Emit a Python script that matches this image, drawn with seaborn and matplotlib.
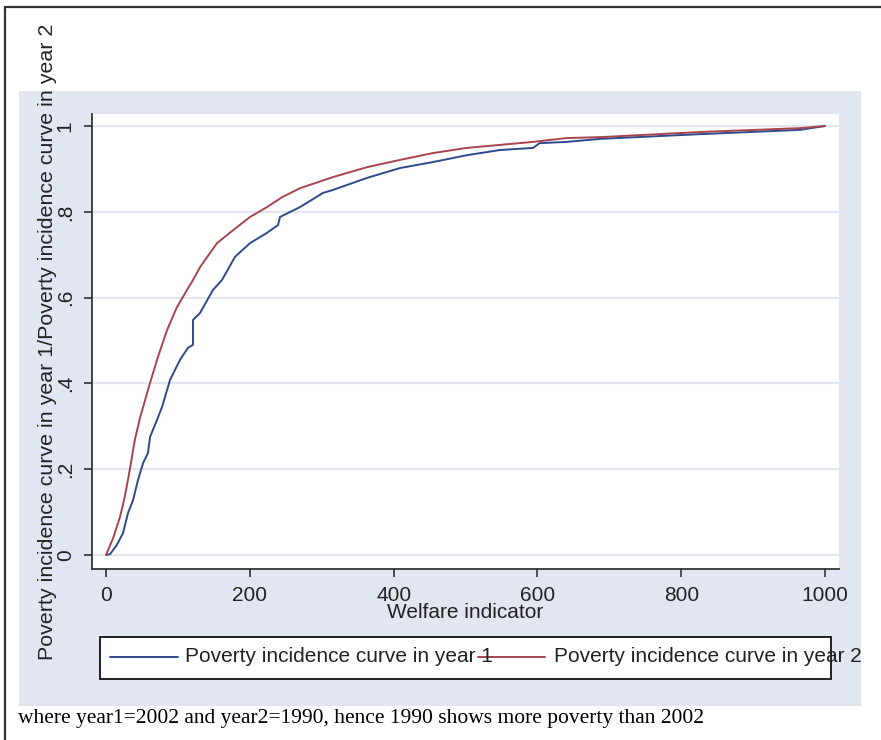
"""Poverty incidence curves for two survey years (Stata-style layout)."""

import matplotlib

matplotlib.use("Agg")
import matplotlib.pyplot as plt
import pandas as pd
import seaborn as sns
from matplotlib.lines import Line2D
from matplotlib.patches import Rectangle

# --- data ------------------------------------------------------------------
welfare_year1 = [0, 5.6, 14.9, 23.6, 30.6, 37.6, 44.5, 51.5, 58.4, 61.2, 70.9,
                 77.9, 89, 102.9, 114, 121, 121, 130.7, 148.8, 161.3, 179.4,
                 200.3, 223.9, 239.2, 242, 269.8, 301.8, 315.7, 363, 408.9,
                 454.8, 502, 548, 594, 603, 641, 687, 826, 965, 1000]
incidence_year1 = [0, 0.002, 0.023, 0.051, 0.098, 0.128, 0.175, 0.214, 0.238,
                   0.275, 0.315, 0.345, 0.408, 0.455, 0.483, 0.490, 0.548,
                   0.564, 0.618, 0.641, 0.695, 0.727, 0.751, 0.769, 0.788,
                   0.811, 0.844, 0.851, 0.879, 0.902, 0.916, 0.932, 0.944,
                   0.949, 0.960, 0.963, 0.970, 0.981, 0.991, 1.0]

welfare_year2 = [0, 10, 19.5, 26, 33, 40, 47.3, 61.2, 72.3, 84.8, 98.7, 112.7,
                 121, 130.7, 154.4, 176.6, 200.3, 223.9, 244.8, 269.8, 315.7,
                 363, 408.9, 454.8, 502, 548, 594, 641, 687, 826, 965, 1000]
incidence_year2 = [0, 0.04, 0.089, 0.135, 0.198, 0.268, 0.32, 0.401, 0.462,
                   0.524, 0.578, 0.618, 0.641, 0.671, 0.727, 0.757, 0.788,
                   0.811, 0.834, 0.855, 0.881, 0.904, 0.921, 0.937, 0.949,
                   0.956, 0.963, 0.972, 0.974, 0.986, 0.995, 1.0]

series_labels = ["Poverty incidence curve in year 1",
                 "Poverty incidence curve in year 2"]
series_colors = ["#2E4A8A", "#A8444E"]

x_ticks = [0, 200, 400, 600, 800, 1000]
y_ticks = [0, 0.2, 0.4, 0.6, 0.8, 1.0]
y_tick_labels = ["0", ".2", ".4", ".6", ".8", "1"]

x_title = "Welfare indicator"
y_title = "Poverty incidence curve in year 1/Poverty incidence curve in year 2"
note = "where year1=2002 and year2=1990, hence 1990 shows more poverty than 2002"

# --- layout helpers (pixel -> figure fraction) -----------------------------
W, H = 881, 740
BG = "#E1E6F0"


def fx(px):
    return px / W


def fy(py):
    return 1 - py / H


df = pd.concat([
    pd.DataFrame({"welfare": welfare_year1, "incidence": incidence_year1,
                  "series": series_labels[0]}),
    pd.DataFrame({"welfare": welfare_year2, "incidence": incidence_year2,
                  "series": series_labels[1]}),
])

sns.set_style("ticks")
plt.rcParams["font.family"] = ["Liberation Sans", "DejaVu Sans"]

fig = plt.figure(figsize=(W / 100, H / 100), dpi=100, facecolor="white")

# outer frame and Stata-like graph region
fig.add_artist(Rectangle((fx(5), fy(760)), fx(900), 753 / H,
                         transform=fig.transFigure, facecolor="white",
                         edgecolor="#333333", linewidth=1.6, zorder=-3))
fig.add_artist(Rectangle((fx(19), fy(706)), fx(842), 615 / H,
                         transform=fig.transFigure, facecolor=BG,
                         edgecolor="none", zorder=-2))

ax = fig.add_axes([fx(92), fy(569), fx(747), 455 / H])
ax.set_facecolor("white")

sns.lineplot(data=df, x="welfare", y="incidence", hue="series",
             hue_order=series_labels, palette=series_colors,
             estimator=None, legend=False, linewidth=1.4, ax=ax)

ax.set_xlim(-19.5, 1019.5)
ax.set_ylim(-0.0326, 1.028)
ax.set_xticks(x_ticks)
ax.set_yticks(y_ticks)
ax.set_yticklabels(y_tick_labels, rotation=90, va="center")
ax.tick_params(axis="both", direction="out", length=5.5, width=1.2,
               color="#333333", labelsize=15, labelcolor="#222222", pad=7)
ax.grid(axis="y", color=BG, linewidth=1.5)
ax.grid(axis="x", visible=False)
sns.despine(ax=ax)
for side in ("left", "bottom"):
    ax.spines[side].set_color("#333333")
    ax.spines[side].set_linewidth(1.3)

ax.set_xlabel(x_title, fontsize=15, color="#222222")
ax.set_ylabel(y_title, fontsize=15.4, color="#222222")
ax.xaxis.set_label_coords(0.5, -0.074)
ax.yaxis.set_label_coords(-0.047, 0.5)

# legend box drawn to mimic the Stata key (text overflows the frame)
fig.add_artist(Rectangle((fx(100), fy(679)), fx(731), 42 / H,
                         transform=fig.transFigure, facecolor="white",
                         edgecolor="#111111", linewidth=1.3))
key_y = fy(657)
for (x0, x1, tx), label, color in zip([(110, 178, 185), (478, 545, 554)],
                                      series_labels, series_colors):
    fig.add_artist(Line2D([fx(x0), fx(x1)], [key_y, key_y],
                          transform=fig.transFigure, color=color, linewidth=1.4))
    fig.text(fx(tx), key_y, label, fontsize=15, color="#222222",
             va="center", ha="left")

fig.text(fx(18), fy(718), note, fontsize=15.5, family="Liberation Serif",
         va="center", ha="left", color="black")

fig.savefig("out.png", dpi=100, facecolor="white")
